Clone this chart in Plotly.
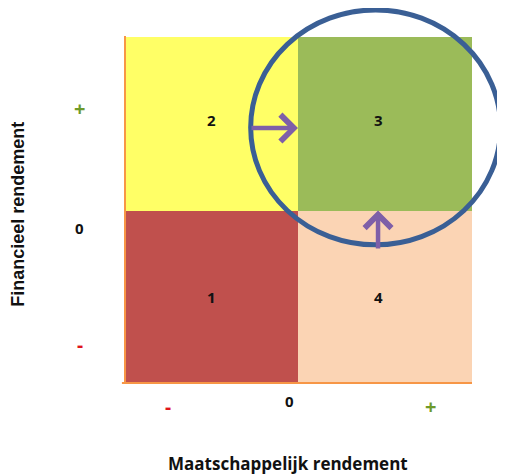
import plotly.graph_objects as go

# Quadrant grid (x: maatschappelijk, y: financieel)
quad_x = [0.5, 1.5]
quad_y = [0.5, 1.5]
quad_id = [[1, 4], [2, 3]]          # rows: bottom, top
quad_labels = [["1", "4"], ["2", "3"]]
quad_colors = ["#C0504D", "#FFFF66", "#9BBB59", "#FBD4B4"]  # ids 1..4

x_tick_vals = [0.253, 0.954, 1.759]
x_tick_text = ["-", "0", "+"]
y_tick_vals = [0.225, 0.90, 1.59]
y_tick_text = ["-", "0", "+"]
tick_colors = {"-": "#E0141C", "0": "#111111", "+": "#6E9A2A"}

# arrows: (tail_x, tail_y, tip_x, tip_y)
arrows = [(0.724, 1.475, 1.0, 1.475), (1.46, 0.772, 1.46, 1.0)]

X_RANGE = [0, 2]
Y_RANGE = [0, 2]

cs = []
n = len(quad_colors)
for i, c in enumerate(quad_colors):
    cs.append([i / n, c])
    cs.append([(i + 1) / n, c])

fig = go.Figure()
fig.add_trace(go.Heatmap(
    x=quad_x, y=quad_y, z=quad_id, zmin=0.5, zmax=4.5,
    colorscale=cs, showscale=False, hoverinfo="skip", xgap=0, ygap=0,
))

annotations = []
for r, row in enumerate(quad_labels):
    for c, lab in enumerate(row):
        annotations.append(dict(x=quad_x[c] - (0.04 if c == 1 else 0.0), y=quad_y[r] + (0.02 if r == 1 else 0.0),
                                text=f"<b>{lab}</b>", showarrow=False, xanchor="center", yanchor="middle",
                                font=dict(family="Open Sans", size=15, color="#111")))

def px(v):
    return (v - X_RANGE[0]) / (X_RANGE[1] - X_RANGE[0])

def py(v):
    return (v - Y_RANGE[0]) / (Y_RANGE[1] - Y_RANGE[0])

tick_sizes = {"-": 19, "0": 15, "+": 20}
for v, t in zip(x_tick_vals, x_tick_text):
    annotations.append(dict(x=px(v), y=-0.05 if t == "0" else -0.065, xref="paper", yref="paper",
                            text=f"<b>{t}</b>", showarrow=False, xanchor="center", yanchor="middle",
                            font=dict(family="Open Sans", size=tick_sizes[t], color=tick_colors[t])))
for v, t in zip(y_tick_vals, y_tick_text):
    annotations.append(dict(x=-0.127, y=py(v), xref="paper", yref="paper",
                            text=f"<b>{t}</b>", showarrow=False, xanchor="center", yanchor="middle",
                            font=dict(family="Open Sans", size=tick_sizes[t], color=tick_colors[t])))

for tx, ty, hx, hy in arrows:
    annotations.append(dict(x=hx, y=hy, ax=tx, ay=ty, xref="x", yref="y", axref="x", ayref="y",
                            text="", showarrow=True, arrowhead=4, arrowsize=1.15, arrowwidth=4.5,
                            arrowcolor="#7E5FA8", standoff=0))

annotations.append(dict(x=0.471, y=-0.228, xref="paper", yref="paper", text="<b>Maatschappelijk rendement</b>",
                        showarrow=False, xanchor="center", yanchor="middle",
                        font=dict(family="Open Sans", size=17, color="#111")))
annotations.append(dict(x=-0.305, y=0.49, xref="paper", yref="paper", text="<b>Financieel rendement</b>",
                        showarrow=False, textangle=-90, xanchor="center", yanchor="middle",
                        font=dict(family="Liberation Sans", size=18, color="#111")))

shapes = [
    dict(type="line", xref="x", yref="paper", x0=X_RANGE[0], x1=X_RANGE[0], y0=0, y1=1.003,
         line=dict(color="#F79646", width=4)),
    dict(type="line", xref="paper", yref="y", x0=-0.006, x1=1, y0=Y_RANGE[0], y1=Y_RANGE[0],
         line=dict(color="#F79646", width=4)),
    dict(type="circle", xref="paper", yref="paper", x0=0.364, x1=1.082, y0=0.401, y1=1.078,
         line=dict(color="#3A5F95", width=5), layer="above"),
]

fig.update_layout(
    width=505, height=475,
    margin=dict(l=116, r=41, t=29, b=99),
    paper_bgcolor="white", plot_bgcolor="white",
    xaxis=dict(range=X_RANGE, showgrid=False, zeroline=False, showticklabels=False, ticks="", fixedrange=True),
    yaxis=dict(range=Y_RANGE, showgrid=False, zeroline=False, showticklabels=False, ticks="", fixedrange=True),
    annotations=annotations, shapes=shapes, showlegend=False,
)

fig.write_html("out.html")
